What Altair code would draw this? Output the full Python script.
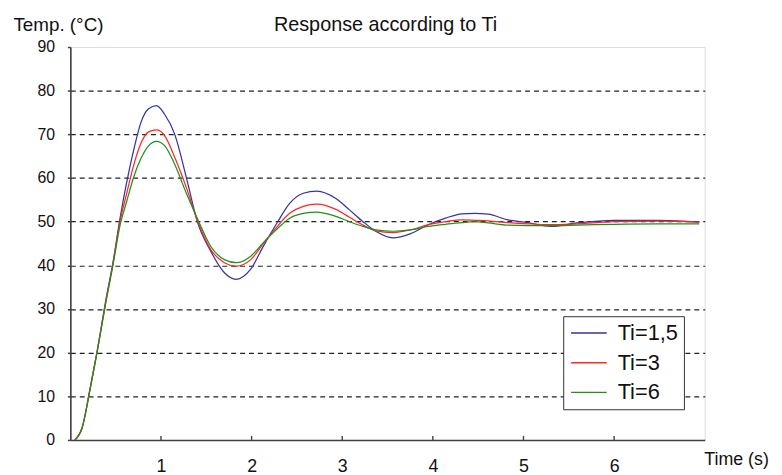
import altair as alt
import pandas as pd

# ---- data ----
time_s = [0.05, 0.13, 0.22, 0.30, 0.39, 0.47, 0.55, 0.62, 0.70, 0.78, 0.86, 0.95,
          1.04, 1.15, 1.28, 1.40, 1.55, 1.70, 1.83, 1.99, 2.13, 2.28, 2.42, 2.57,
          2.72, 2.93, 3.08, 3.23, 3.37, 3.56, 3.75, 3.95, 4.14, 4.32, 4.46, 4.61,
          4.83, 5.05, 5.30, 5.59, 6.00, 6.50, 6.94]

ti_1_5 = [0, 2.8, 12.0, 20.8, 31.8, 40.6, 51.0, 58.8, 66.5, 72.8, 75.8, 76.6,
          74.6, 70.1, 60.1, 50.1, 43.2, 38.3, 36.8, 39.1, 44.4, 49.7, 54.2, 56.5,
          57.0, 55.3, 52.7, 50.0, 47.8, 46.3, 47.2, 49.3, 50.8, 51.8, 51.9, 51.7,
          50.4, 49.8, 48.9, 49.7, 50.3, 50.3, 49.9]

ti_3 = [0, 2.8, 12.0, 20.8, 31.6, 40.3, 50.3, 56.3, 63.0, 68.0, 70.5, 71.0,
        69.7, 64.8, 57.8, 50.4, 43.6, 40.6, 39.8, 41.3, 45.0, 48.8, 51.9, 53.5,
        54.0, 52.8, 51.0, 49.2, 47.9, 47.5, 48.1, 49.3, 50.0, 50.4, 50.3, 50.2,
        49.8, 49.5, 49.3, 49.5, 50.0, 50.1, 49.9]

ti_6 = [0, 2.8, 11.8, 20.6, 31.3, 40.0, 49.3, 54.5, 60.3, 64.5, 67.3, 68.4,
        67.4, 63.2, 56.5, 50.8, 44.3, 41.3, 40.6, 42.1, 45.2, 48.3, 50.8, 51.9,
        52.2, 51.2, 50.0, 48.9, 48.1, 47.8, 48.1, 48.9, 49.4, 49.8, 50.0, 49.7,
        49.2, 49.1, 49.1, 49.2, 49.4, 49.5, 49.5]

series_names = ["Ti=1,5", "Ti=3", "Ti=6"]
series_colors = ["#34349c", "#ff2626", "#1c921c"]
x_ticks = [1, 2, 3, 4, 5, 6]
y_ticks = [0, 10, 20, 30, 40, 50, 60, 70, 80, 90]

rows = []
for name, vals in zip(series_names, [ti_1_5, ti_3, ti_6]):
    for t, v in zip(time_s, vals):
        rows.append({"time": t, "temp": v, "series": name})
df = pd.DataFrame(rows)
tick_df = pd.DataFrame({"time": x_ticks})

FONT = "Liberation Sans"
W, H = 641, 397

x_enc = alt.X(
    "time:Q",
    scale=alt.Scale(domain=[0, 7], nice=False, zero=False),
    axis=alt.Axis(
        values=x_ticks, format="d", ticks=False, grid=False,
        domainColor="#404040", domainWidth=1.6,
        labelFont=FONT, labelFontSize=18, labelPadding=18, labelColor="#111",
        title="Time (s)", titleFont=FONT, titleFontSize=18, titleFontWeight="normal",
        titleColor="#111", titleAngle=0, titleAlign="left", titleBaseline="alphabetic",
        titleX=640, titleY=25,
    ),
)

y_enc = alt.Y(
    "temp:Q",
    scale=alt.Scale(domain=[0, 90], nice=False),
    axis=alt.Axis(
        values=y_ticks, grid=True, gridDash=[5, 4], gridWidth=1.2,
        gridColor=alt.condition("datum.value > 0 && datum.value < 90",
                                alt.value("#222222"), alt.value("transparent")),
        tickSize=3, tickColor="#404040", tickWidth=1.5,
        domainColor="#404040", domainWidth=1.6,
        labelFont=FONT, labelFontSize=16, labelPadding=13, labelColor="#111",
        title="Temp. (°C)", titleFont=FONT, titleFontSize=19, titleFontWeight="normal",
        titleColor="#111", titleAngle=0, titleAlign="left", titleBaseline="alphabetic",
        titleX=-58, titleY=-17,
    ),
)

lines = alt.Chart(df).mark_line(strokeWidth=1.25, interpolate="monotone").encode(
    x=x_enc,
    y=y_enc,
    color=alt.Color(
        "series:N",
        scale=alt.Scale(domain=series_names, range=series_colors),
        legend=alt.Legend(
            title=None, orient="none", legendX=498, legendY=272,
            symbolType="M-3,0H3", symbolSize=144, symbolStrokeWidth=1.4,
            symbolOffset=9,
            labelFont=FONT, labelFontSize=22, labelColor="#111", labelOffset=18,
            padding=6, rowPadding=8,
            strokeColor="#333333", fillColor="white",
        ),
    ),
)

ticks = alt.Chart(tick_df).mark_rule(color="#404040", strokeWidth=1.4).encode(
    x=alt.X("time:Q"),
    y=alt.value(H - 4),
    y2=alt.value(H),
)

chart = alt.layer(lines, ticks).properties(
    width=W,
    height=H,
    title=alt.TitleParams(
        "Response according to Ti", font=FONT, fontSize=20, fontWeight="normal",
        color="#111", anchor="middle", frame="group", baseline="alphabetic",
        offset=0, dy=36, dx=-2,
    ),
    autosize=alt.AutoSizeParams(type="none"),
    padding={"left": 63, "top": 37, "right": 70, "bottom": 33},
).configure_view(
    stroke="#a0a0a0", strokeWidth=1.5
).configure(background="white")

chart.save("out.html", embed_options={"renderer": "svg", "actions": False})
